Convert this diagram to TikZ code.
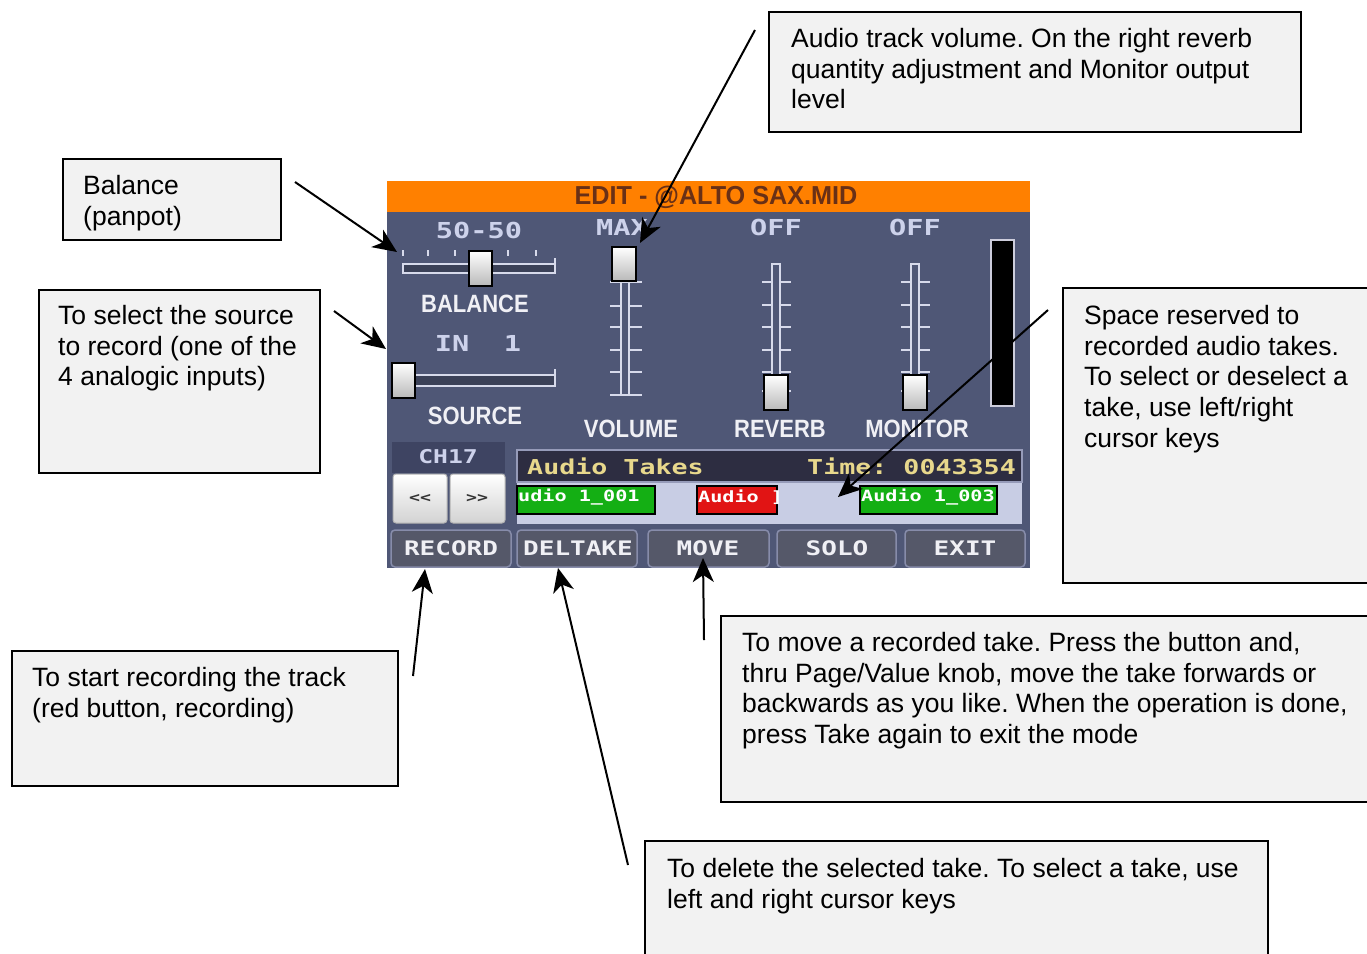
\documentclass[tikz,border=0pt]{standalone}
\usepackage{fontspec}
\setmainfont{Liberation Sans}
\newfontfamily\lcdmono[FakeStretch=1.3]{DejaVu Sans Mono Bold}
\newfontfamily\lcdsans[FakeStretch=0.88]{Liberation Sans Bold}
\newfontfamily\titlefont[FakeStretch=0.97]{Liberation Sans Bold}
\usetikzlibrary{arrows.meta}
\frenchspacing

\definecolor{boxfill}{RGB}{242,242,242}
\definecolor{scrbg}{RGB}{79,87,118}
\definecolor{barorange}{RGB}{255,128,0}
\definecolor{titlecol}{RGB}{105,48,22}
\definecolor{valcol}{RGB}{205,210,235}
\definecolor{labcol}{RGB}{240,240,245}
\definecolor{trackcol}{RGB}{215,218,235}
\definecolor{takebg}{RGB}{200,205,228}
\definecolor{hdrbg}{RGB}{45,45,65}
\definecolor{hdrline}{RGB}{150,155,185}
\definecolor{yelcol}{RGB}{232,216,140}
\definecolor{takegreen}{RGB}{20,175,20}
\definecolor{takered}{RGB}{225,20,20}
\definecolor{btnfill}{RGB}{85,88,105}
\definecolor{btnline}{RGB}{135,140,170}
\definecolor{chbg}{RGB}{62,68,98}
\definecolor{meterline}{RGB}{205,205,220}

\tikzset{
  notebox/.style={draw=black, line width=2pt, fill=boxfill, rectangle,
    inner sep=0pt, anchor=north west},
  notetext/.style={anchor=north west, inner sep=0pt, align=left,
    font=\fontsize{26.5}{30.7}\selectfont},
  pointer/.style={line width=2pt, -{Stealth[length=24pt,width=21pt,inset=7pt]}},
  knob/.style={draw=black, line width=1.6pt, top color=white, bottom color=gray!55},
  track/.style={draw=trackcol, line width=1.4pt},
  valtext/.style={inner sep=0pt, text=valcol, font=\lcdmono\fontsize{22}{22}\selectfont},
  labtext/.style={inner sep=0pt, text=labcol, font=\lcdsans\fontsize{25}{25}\selectfont},
  btntext/.style={inner sep=0pt, text=labcol, font=\lcdmono\fontsize{20}{20}\selectfont},
  takebox/.style={draw=black, line width=1.2pt},
  taketext/.style={inner sep=0pt, anchor=west, text=white, font=\lcdmono\fontsize{15.5}{15.5}\selectfont},
  softkey/.style={draw=btnline, line width=1.5pt, fill=btnfill, rounded corners=4pt},
  arrowkey/.style={draw=gray!60, line width=1pt, rounded corners=3pt, top color=white, bottom color=gray!35},
}

\begin{document}
\begin{tikzpicture}[x=1pt, y=-1pt]
\useasboundingbox (0,0) rectangle (1367,953);
\clip (0,0) rectangle (1367,953);

% ---------------- display panel ----------------
\fill[scrbg] (387,181) rectangle (1030,568);
\fill[barorange] (387,181) rectangle (1030,212);
\node[inner sep=0pt, text=titlecol, font=\titlefont\fontsize{26}{26}\selectfont] (title) at (716,197) {EDIT - @ALTO SAX.MID};

% balance slider
\node[valtext] (balval) at (479,230) {50-50};
\foreach \x in {403,428,455,508,536} \draw[track] (\x,250) -- (\x,256);
\draw[track, fill=scrbg!75!black] (403,264) rectangle (555,273);
\draw[track] (555,264) -- (555,258);
\draw[knob] (469,251) rectangle (492,286);
\node[labtext] (ballab) at (475,304) {BALANCE};

% source slider
\node[valtext] (srcval) at (478,343) {IN\ \ 1};
\draw[track, fill=scrbg!75!black] (403,375) rectangle (555,386);
\draw[track] (555,375) -- (555,369);
\draw[knob] (392,363) rectangle (415,398);
\node[labtext] (srclab) at (475,416) {SOURCE};

% volume fader
\node[valtext] (volval) at (622,227) {MAX};
\draw[track] (621,282) rectangle (629,395);
\foreach \y in {282,306,327,350,372,395} {
  \draw[track] (610,\y) -- (621,\y);
  \draw[track] (629,\y) -- (642,\y);
}
\draw[knob] (612,247) rectangle (636,281);
\node[labtext] (vollab) at (631,429) {VOLUME};

% reverb and monitor faders
\foreach \cx/\nm/\lx in {776/REVERB/780, 915/MONITOR/917} {
  \node[valtext] at (\cx,227) {OFF};
  \draw[track] (\cx-4,264) rectangle (\cx+4,400);
  \foreach \y in {282,305,327,350,372,391} {
    \draw[track] (\cx-14,\y) -- (\cx-4,\y);
    \draw[track] (\cx+4,\y) -- (\cx+15,\y);
  }
  \draw[knob] (\cx-12,375) rectangle (\cx+12,410);
  \node[labtext] at (\lx,429) {\nm};
}

% level meter
\draw[draw=meterline, line width=2pt, fill=black] (991,240) rectangle (1014,406);

% channel selector
\fill[chbg] (392,442) rectangle (505,473);
\node[inner sep=0pt, text=valcol, font=\lcdmono\fontsize{19}{19}\selectfont] (ch) at (448,457) {CH17};
\draw[arrowkey] (393,474) rectangle (447,523);
\draw[arrowkey] (450,474) rectangle (505,523);
\node[inner sep=0pt, text=black!80, font=\lcdmono\fontsize{14}{14}\selectfont] (prev) at (420,498) {<<};
\node[inner sep=0pt, text=black!80, font=\lcdmono\fontsize{14}{14}\selectfont] (next) at (477,498) {>>};

% audio takes list
\fill[takebg] (517,482) rectangle (1022,524);
\draw[draw=hdrline, line width=1.5pt, fill=hdrbg] (517,450) rectangle (1022,482);
\node[inner sep=0pt, anchor=west, text=yelcol, font=\lcdmono\fontsize{20.5}{20.5}\selectfont] (takes) at (527,466) {Audio Takes};
\node[inner sep=0pt, anchor=east, text=yelcol, font=\lcdmono\fontsize{20.5}{20.5}\selectfont] (time) at (1016,466) {Time: 0043354};
\draw[takebox, fill=takegreen] (517,486) rectangle (655,514);
\node[taketext] (take1) at (518,497) {udio 1\_001};
\draw[takebox, fill=takered] (697,486) rectangle (777,514);
\node[taketext] (take2) at (698,497) {Audio ]};
\draw[takebox, fill=takegreen] (860,486) rectangle (997,514);
\node[taketext] (take3) at (861,497) {Audio 1\_003};

% soft keys
\draw[softkey] (391,530) rectangle (511,567);
\draw[softkey] (517,530) rectangle (637,567);
\draw[softkey] (648,530) rectangle (769,567);
\draw[softkey] (777,530) rectangle (896,567);
\draw[softkey] (905,530) rectangle (1025,567);
\node[btntext] (krec) at (451,548) {RECORD};
\node[btntext] (kdel) at (578,548) {DELTAKE};
\node[btntext] (kmove) at (708,548) {MOVE};
\node[btntext] (ksolo) at (837,548) {SOLO};
\node[btntext] (kexit) at (965,548) {EXIT};

% ---------------- callout boxes ----------------
\node[notebox, minimum width=218pt, minimum height=81pt] (balbox) at (62,158) {};
\node[notetext] (baltxt) at (83,175) {Balance\\(panpot)};

\node[notebox, minimum width=281pt, minimum height=183pt] (srcbox) at (38,289) {};
\node[notetext] (srctxt) at (58,305) {To select the source\\to record (one of the\\4 analogic inputs)};

\node[notebox, minimum width=532pt, minimum height=120pt] (volbox) at (768,11) {};
\node[notetext] (voltxt) at (791,28) {Audio track volume. On the right reverb\\quantity adjustment and Monitor output\\level};

\node[notebox, minimum width=330pt, minimum height=295pt] (spcbox) at (1062,287) {};
\node[notetext] (spctxt) at (1084,305) {Space reserved to\\recorded audio takes.\\To select or deselect a\\take, use left/right\\cursor keys};

\node[notebox, minimum width=386pt, minimum height=135pt] (recbox) at (11,650) {};
\node[notetext] (rectxt) at (32,667) {To start recording the track\\(red button, recording)};

\node[notebox, minimum width=670pt, minimum height=186pt] (movbox) at (720,615) {};
\node[notetext] (movtxt) at (742,632) {To move a recorded take. Press the button and,\\thru Page/Value knob, move the take forwards or\\backwards as you like. When the operation is done,\\press Take again to exit the mode};

\node[notebox, minimum width=623pt, minimum height=140pt] (delbox) at (644,840) {};
\node[notetext] (deltxt) at (667,858) {To delete the selected take. To select a take, use\\left and right cursor keys};

% ---------------- pointers ----------------
\coordinate (balfrom) at (295,182);  \coordinate (balto) at (397,252);
\coordinate (srcfrom) at (334,311);  \coordinate (srcto) at (386,349);
\coordinate (volfrom) at (755,30);   \coordinate (volto) at (640,243);
\coordinate (spcfrom) at (1048,310); \coordinate (spcto) at (838,497);
\coordinate (recfrom) at (413,676);  \coordinate (recto) at (425,569);
\coordinate (delfrom) at (628,865);  \coordinate (delto) at (558,568);
\coordinate (movfrom) at (704,640);  \coordinate (movto) at (703,558);

\draw[pointer] (balfrom) -- (balto);
\draw[pointer] (srcfrom) -- (srcto);
\draw[pointer] (volfrom) -- (volto);
\draw[pointer] (spcfrom) -- (spcto);
\draw[pointer] (recfrom) -- (recto);
\draw[pointer] (delfrom) -- (delto);
\draw[pointer] (movfrom) -- (movto);
\end{tikzpicture}
\end{document}
